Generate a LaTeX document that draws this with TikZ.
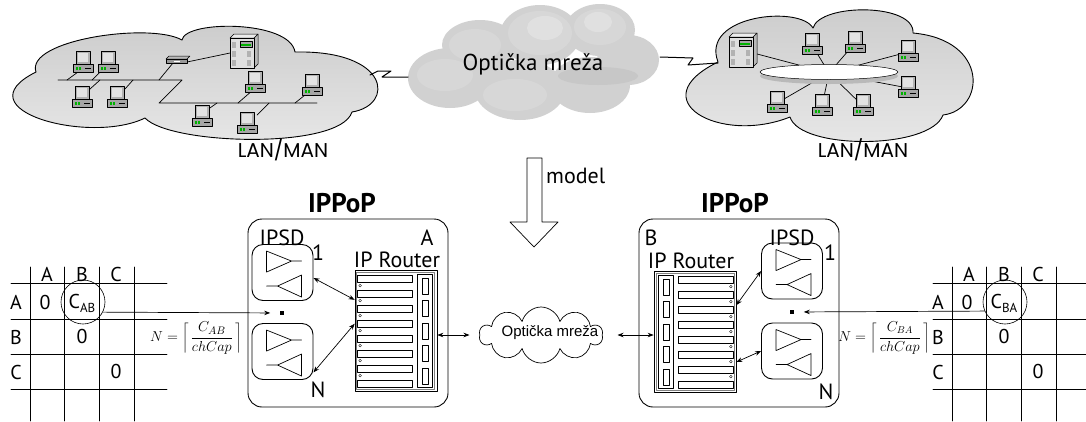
\documentclass[tikz,border=0pt]{standalone}
\usepackage{fontspec}
\setmainfont{PT Sans}
\newfontfamily\lanfont{Poppins}
\newfontfamily\arialfont{Liberation Sans}
\usetikzlibrary{arrows.meta,shapes.geometric,shapes.symbols,calc}

\tikzset{
  lan/.style={draw, line width=0.9pt, top color=gray!40, bottom color=gray!18},
  pop/.style={draw, line width=0.9pt, rounded corners=14pt, minimum width=200pt, minimum height=188pt, inner sep=0pt},
  ipsd/.style={draw, line width=0.9pt, rounded corners=11pt, minimum width=61pt, minimum height=56pt, inner sep=0pt},
  router/.style={draw, line width=0.7pt, minimum width=82pt, minimum height=121pt, inner sep=0pt},
  title/.style={font=\fontsize{27}{27}\selectfont\bfseries, inner sep=0pt},
  lbl/.style={font=\fontsize{22}{22}\selectfont, inner sep=0pt},
  cell/.style={font=\fontsize{20}{20}\selectfont, inner sep=0pt},
  grid/.style={line width=0.7pt},
  dbl/.style={{Stealth[length=6pt,width=4.5pt]}-{Stealth[length=6pt,width=4.5pt]}, line width=0.7pt},
  one/.style={-{Stealth[length=6pt,width=4.5pt]}, line width=0.7pt},
  pc/.pic={
    \draw[line width=0.5pt, fill=gray!60] (-7,-12) rectangle (7,1);
    \fill[gray!22] (-5,-10) rectangle (5,-1);
    \draw[line width=0.5pt, fill=gray!70] (-10,1) rectangle (10,9);
    \fill[green!70!black] (-7,4) rectangle (-5.5,6.5);
    \fill[green!70!black] (-4,4) rectangle (-2.5,6.5);
    \fill[black] (2,4.5) rectangle (8,5.8);
  },
  server/.pic={
    \draw[line width=0.5pt, fill=gray!55] (11,-13) -- (15,-17) -- (15,13) -- (11,17) -- cycle;
    \draw[line width=0.5pt, fill=gray!15] (-13,-13) -- (-9,-17) -- (15,-17) -- (11,-13) -- cycle;
    \draw[line width=0.5pt, fill=gray!25] (-13,-13) rectangle (11,17);
    \foreach \y in {-9,0,9}
      \fill[gray!60] (-11,\y) rectangle (-7,\y+6);
    \foreach \y in {0,9}
      \fill[gray!60] (4,\y) rectangle (8,\y+6);
    \draw[line width=0.5pt, fill=gray!70] (-3,-10) rectangle (9,-4);
    \fill[green!70!black] (-2,-7) rectangle (8,-5.5);
  },
  hub/.pic={
    \draw[line width=0.5pt, fill=gray!55] (-12,-1) -- (-9,-4) -- (12,-4) -- (9,-1) -- cycle;
    \draw[line width=0.5pt, fill=gray!80] (-12,-1) rectangle (9,3);
    \fill[white] (-4,0.5) rectangle (2,1.5);
  },
}

% router front: slots, leds and port column
\newcommand{\routerparts}{%
  \draw[gray, line width=0.5pt] (2,2) rectangle (80,119);
  \foreach \i in {0,...,7}
    \draw[line width=0.5pt] (3,5+15*\i) rectangle (58,12+15*\i);
  \foreach \i in {0,...,6}
    \draw[line width=0.4pt, fill=white] (5.5,15.5+15*\i) circle (1.4);
  \draw[line width=0.5pt] (63,4) rectangle (78,117);
  \foreach \i in {0,...,4}
    \draw[line width=0.5pt] (67.5,8+22.5*\i) rectangle (73.5,24+22.5*\i);
}

% amplifier pair inside an IPSD box
\newcommand{\ipsdamps}{%
  \draw[line width=0.7pt] (15,7) -- (40,17) -- (15,28) -- cycle (40,17) -- (50,17);
  \draw[line width=0.7pt] (15,42) -- (26,42) (26,42) -- (50,31) -- (50,53) -- cycle;
}

% capacity matrix: #1 first column line, #2 subscript, #3 circle name
\newcommand{\capmatrix}[3]{%
  \foreach \dx in {0,34,69,104}
    \draw[grid] (#1+\dx,267) -- (#1+\dx,421);
  \foreach \y in {283,319,354,389}
    \draw[grid] (#1-19,\y) -- (#1+137,\y);
  \node[cell] at (#1+17,274) {A};
  \node[cell] at (#1+52,274) {B};
  \node[cell] at (#1+86,274) {C};
  \node[cell] at (#1-14,302) {A};
  \node[cell] at (#1-14,337) {B};
  \node[cell] at (#1-14,372) {C};
  \node[cell] at (#1+15,302) {0};
  \node[cell] at (#1+52,336) {0};
  \node[cell] at (#1+86,371) {0};
  \node[cell] at (#1+52,303) {C\raisebox{-4pt}{\fontsize{13}{13}\selectfont #2}};
  \node[circle, draw, line width=0.6pt, minimum size=44pt, inner sep=0pt] (#3) at (#1+53,302) {};
}

\begin{document}
\begin{tikzpicture}[x=1pt, y=-1pt, line cap=round, line join=round]
  \useasboundingbox (0,0) rectangle (1086,421);
  \fill[white] (0,0) rectangle (1086,421);

  % LAN/MAN A
  \draw[lan] (36,72) .. controls (25,40) and (150,22) .. (182,40)
    .. controls (185,20) and (290,20) .. (295,52)
    .. controls (390,50) and (395,105) .. (352,112)
    .. controls (340,150) and (170,145) .. (145,118)
    .. controls (90,145) and (-40,110) .. (36,72) -- cycle;
  \draw[line width=0.7pt] (58,80) -- (182,80) -- (159,103) -- (317,103);
  \draw[line width=0.7pt] (78,72) -- (67,80) (100,72) -- (92,80)
    (100,80) -- (90,89) (133,80) -- (125,89)
    (173,63) -- (159,80) (187,62) -- (230,53)
    (253,90) -- (238,103) (305,95) -- (295,103)
    (217,103) -- (207,110) (269,103) -- (257,115);
  \foreach \p in {(83,63),(108,63),(82,98),(117,98),(255,83),(312,86),(202,117),(247,124)}
    \pic at \p {pc};
  \pic at (178,60) {hub};
  \pic at (243,51) {server};
  \node[font=\lanfont\fontsize{20}{20}\selectfont, inner sep=0pt] (lanA) at (283,150) {LAN/MAN};

  % LAN/MAN B
  \draw[lan] (718,62) .. controls (700,15) and (800,5) .. (813,28)
    .. controls (820,3) and (915,3) .. (913,33)
    .. controls (990,40) and (985,110) .. (943,115)
    .. controls (930,150) and (800,150) .. (790,117)
    .. controls (720,145) and (640,100) .. (718,62) -- cycle;
  \coordinate (ringc) at (829,73);
  \foreach \p in {(742,50),(812,45),(855,43),(908,52),(908,88),(777,103),(822,106),(863,106)}
    \draw[line width=0.7pt] (ringc) -- \p;
  \fill[gray!55] (829,76) ellipse (69 and 8);
  \node[ellipse, draw, line width=0.5pt, fill=white, minimum width=138pt, minimum height=15pt] (ring) at (829,72) {};
  \foreach \p in {(812,45),(855,43),(908,52),(908,88),(777,103),(822,106),(863,106)}
    \pic at \p {pc};
  \pic at (742,50) {server};
  \node[font=\lanfont\fontsize{20}{20}\selectfont, inner sep=0pt] (lanB) at (863,150) {LAN/MAN};

  % optical core
  \begin{scope}
    \fill[gray!36] (450,78) ellipse (42 and 30) (480,45) ellipse (38 and 25)
      (540,35) ellipse (40 and 30) (600,30) ellipse (35 and 26)
      (628,60) ellipse (31 and 25) (590,85) ellipse (40 and 28)
      (520,90) ellipse (45 and 30);
    \fill[gray!44] (598,76) ellipse (40 and 9);
    \fill[gray!30, opacity=0.8] (540,33) ellipse (32 and 22) (600,27) ellipse (26 and 18)
      (475,45) ellipse (26 and 16) (445,75) ellipse (28 and 16)
      (515,95) ellipse (32 and 16);
    \fill[gray!22, opacity=0.8] (545,28) ellipse (18 and 12) (598,22) ellipse (14 and 10);
  \end{scope}
  \node[font=\fontsize{23}{23}\selectfont, inner sep=0pt] (opt) at (533,64) {Optička mreža};
  \coordinate (lanAe) at (370,75);
  \coordinate (optW) at (408,77);
  \coordinate (optE) at (660,57);
  \coordinate (lanBw) at (718,63);
  \draw[line width=1pt] (lanAe) -- (378,71) -- (391,71) -- (382,77) -- (optW);
  \draw[line width=1pt] (optE) -- (693,58) -- (688,65) -- (lanBw);

  % model arrow
  \draw[line width=0.7pt] (527,158) -- (542,158) -- (542,222) -- (558,222)
    -- (534,247) -- (510,222) -- (527,222) -- cycle;
  \node[font=\fontsize{22}{22}\selectfont, anchor=west, inner sep=0pt] (model) at (546,176) {model};

  % IPPoP A
  \node[pop] (popA) at (348,313) {};
  \node[title] at (342,203) {IPPoP};
  \node[lbl] at (427,238) {A};
  \node[lbl] at (282,238) {IPSD};
  \node[lbl] at (397,260) {IP Router};
  \node[ipsd] (ipsdA1) at (282.5,272.5) {};
  \node[ipsd] (ipsdAN) at (282.5,351.5) {};
  \begin{scope}[shift={(ipsdA1.north west)}] \ipsdamps \end{scope}
  \begin{scope}[shift={(ipsdAN.north west)}] \ipsdamps \end{scope}
  \node[lbl] at (318,253) {1};
  \node[lbl] at (318,390) {N};
  \node[fill, inner sep=1.6pt] (dotA) at (282,313) {};
  \node[router] (routerA) at (396,331) {};
  \begin{scope}[shift={(routerA.north west)}] \routerparts \end{scope}
  \draw[dbl] (ipsdA1.-10) -- (routerA.143);
  \draw[dbl] (ipsdAN.-34) -- (routerA.170);

  % IPPoP B
  \node[pop] (popB) at (739,313) {};
  \node[title] at (735,203) {IPPoP};
  \node[lbl] at (651,238) {B};
  \node[lbl] at (792,238) {IPSD};
  \node[lbl] at (691,261) {IP Router};
  \node[ipsd] (ipsdB1) at (792,271) {};
  \node[ipsd] (ipsdBN) at (792,351) {};
  \begin{scope}[shift={(ipsdB1.north west)}] \ipsdamps \end{scope}
  \begin{scope}[shift={(ipsdBN.north west)}] \ipsdamps \end{scope}
  \node[lbl] at (830,253) {1};
  \node[lbl] at (826,392) {N};
  \node[fill, inner sep=1.6pt] (dotB) at (792,312) {};
  \node[router] (routerB) at (695,332) {};
  \begin{scope}[shift={(routerB.north east)}, xscale=-1] \routerparts \end{scope}
  \draw[dbl] (ipsdB1.west) -- (routerB.33);
  \draw[dbl] (ipsdBN.west) -- (routerB.-36);

  % optical network between the PoPs
  \node[cloud, draw, line width=0.7pt, cloud puffs=10, aspect=2.2,
    minimum width=123pt, minimum height=56pt, inner sep=0pt] (mreza) at (541,335) {};
  \node[font=\arialfont\fontsize{15}{15}\selectfont, inner sep=0pt] at (550,333) {Optička mreža};
  \draw[dbl] (routerA.east |- mreza.west) -- ([xshift=-10pt]mreza.west);
  \draw[dbl] ([xshift=15pt]mreza.east) -- (routerB.west |- mreza.east);

  % capacity matrices
  \capmatrix{30}{AB}{circAB}
  \capmatrix{952}{BA}{circBA}
  \node[font=\fontsize{15}{18}\selectfont, inner sep=0pt] at (196,338)
    {$\displaystyle N=\left\lceil\,\frac{C_{AB}}{chCap}\,\right\rceil$};
  \node[font=\fontsize{14}{17}\selectfont, inner sep=0pt] at (884,338)
    {$\displaystyle N=\left\lceil\,\frac{C_{BA}}{chCap}\,\right\rceil$};
  \draw[one, shorten >=10pt] (circAB.-27) -- (dotA);
  \draw[one, shorten >=10pt] (circBA.204) -- (dotB);
\end{tikzpicture}
\end{document}
